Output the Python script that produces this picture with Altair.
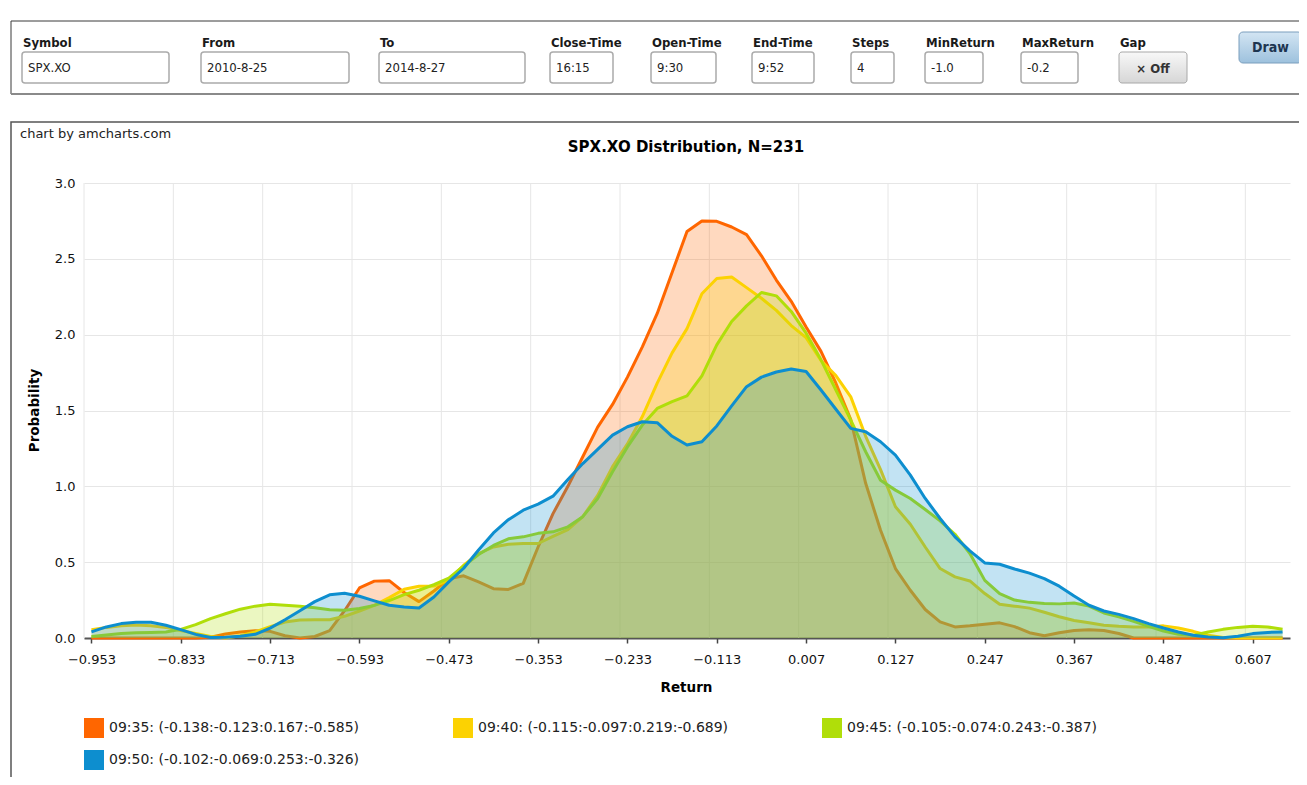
import altair as alt
import pandas as pd

# ------------------------------------------------------------------ data
# category axis: returns from -0.953 in steps of 0.02 (81 categories)
returns = [round(-0.953 + 0.02 * k, 3) for k in range(81)]

series_names = ["09:35", "09:40", "09:45", "09:50"]
series_stats = [
    "(-0.138:-0.123:0.167:-0.585)",
    "(-0.115:-0.097:0.219:-0.689)",
    "(-0.105:-0.074:0.243:-0.387)",
    "(-0.102:-0.069:0.253:-0.326)",
]
series_colors = ["#FF6600", "#FCD202", "#B0DE09", "#0D8ECF"]

p0935 = [0, 0, 0, 0, 0, 0, 0, 0, 0.005, 0.026,
         0.04, 0.048, 0.044, 0.015, 0.0, 0.01, 0.048, 0.18, 0.33, 0.375,
         0.378, 0.30, 0.24, 0.31, 0.39, 0.41, 0.37, 0.325, 0.32, 0.36,
         0.6, 0.82, 1.0, 1.195, 1.39, 1.54, 1.72, 1.92, 2.14, 2.41,
         2.68, 2.75, 2.747, 2.71, 2.66, 2.52, 2.36, 2.22, 2.05, 1.89,
         1.68, 1.44, 1.02, 0.71, 0.458, 0.315, 0.188, 0.106, 0.073, 0.08,
         0.09, 0.1, 0.075, 0.035, 0.015, 0.035, 0.05, 0.055, 0.05, 0.03,
         0, 0, 0, 0, 0, 0, 0, 0, 0, 0,
         0]
p0940 = [0.055, 0.07, 0.08, 0.085, 0.08, 0.07, 0.05, 0.03, 0.01, 0.0,
         0.015, 0.04, 0.075, 0.105, 0.118, 0.12, 0.12, 0.143, 0.178, 0.216,
         0.266, 0.321, 0.341, 0.343, 0.38, 0.48, 0.557, 0.6, 0.618, 0.623,
         0.623, 0.67, 0.715, 0.8, 0.94, 1.13, 1.28, 1.46, 1.68, 1.88,
         2.04, 2.27, 2.37, 2.38, 2.31, 2.24, 2.16, 2.06, 1.98, 1.83,
         1.73, 1.59, 1.33, 1.11, 0.865, 0.75, 0.6, 0.458, 0.403, 0.376,
         0.293, 0.222, 0.21, 0.197, 0.17, 0.14, 0.115, 0.1, 0.084, 0.077,
         0.073, 0.073, 0.08, 0.066, 0.044, 0.018, 0.003, 0, 0, 0,
         0]
p0945 = [0.01, 0.02, 0.03, 0.035, 0.037, 0.04, 0.057, 0.088, 0.128, 0.16,
         0.19, 0.21, 0.222, 0.216, 0.21, 0.2, 0.187, 0.183, 0.194, 0.215,
         0.247, 0.286, 0.315, 0.352, 0.395, 0.475, 0.55, 0.61, 0.654, 0.667,
         0.69, 0.70, 0.733, 0.8, 0.92, 1.096, 1.26, 1.404, 1.514, 1.558,
         1.596, 1.728, 1.933, 2.087, 2.19, 2.278, 2.256, 2.153, 2.01, 1.834,
         1.635, 1.437, 1.228, 1.04, 0.975, 0.92, 0.847, 0.772, 0.684, 0.557,
         0.38, 0.293, 0.25, 0.235, 0.228, 0.225, 0.231, 0.21, 0.165, 0.139,
         0.11, 0.077, 0.046, 0.024, 0.018, 0.04, 0.057, 0.07, 0.077, 0.073,
         0.057]
p0950 = [0.04, 0.073, 0.095, 0.104, 0.104, 0.084, 0.055, 0.024, 0.003, 0.005,
         0.011, 0.024, 0.065, 0.12, 0.18, 0.24, 0.285, 0.295, 0.275, 0.245,
         0.216, 0.205, 0.198, 0.27, 0.37, 0.46, 0.58, 0.693, 0.78, 0.843,
         0.883, 0.935, 1.045, 1.15, 1.244, 1.338, 1.393, 1.426, 1.42, 1.33,
         1.272, 1.294, 1.398, 1.53, 1.657, 1.72, 1.754, 1.774, 1.757, 1.635,
         1.508, 1.382, 1.36, 1.294, 1.206, 1.074, 0.92, 0.788, 0.667, 0.575,
         0.495, 0.486, 0.455, 0.428, 0.392, 0.342, 0.277, 0.216, 0.178, 0.156,
         0.128, 0.095, 0.066, 0.04, 0.018, 0.007, 0.002, 0.011, 0.029, 0.037,
         0.04]

x_ticks = [-0.953, -0.833, -0.713, -0.593, -0.473, -0.353, -0.233,
           -0.113, 0.007, 0.127, 0.247, 0.367, 0.487, 0.607]
y_ticks = [0.0, 0.5, 1.0, 1.5, 2.0, 2.5, 3.0]

chart_title = "SPX.XO Distribution, N=231"
credit = "chart by amcharts.com"

form_fields = [
    ("Symbol", "SPX.XO"), ("From", "2010-8-25"), ("To", "2014-8-27"),
    ("Close-Time", "16:15"), ("Open-Time", "9:30"), ("End-Time", "9:52"),
    ("Steps", "4"), ("MinReturn", "-1.0"), ("MaxReturn", "-0.2"),
]

labels = [f"{n}: {s}" for n, s in zip(series_names, series_stats)]
rows = []
for lab, vals in zip(labels, [p0935, p0940, p0945, p0950]):
    for r, v in zip(returns, vals):
        rows.append({"Return": r, "Probability": v, "Series": lab})
df = pd.DataFrame(rows)

# ------------------------------------------------------------------ layout
OX, OY = 84, 183          # page position of plot origin
W, H = 1206, 455
FONT = "DejaVu Sans"
COND = "Liberation Sans Narrow, DejaVu Sans Condensed, Liberation Sans, sans-serif"

# form geometry (page pixels): box left / right
form_boxes = [(22, 169), (201, 349), (379, 525), (550, 613), (651, 716),
              (752, 814), (851, 894), (925, 983), (1021, 1078)]

one = pd.DataFrame({"k": [0]})


def px(x):
    return x - OX


def py(y):
    return y - OY


def rect(x1, y1, x2, y2, **kw):
    return alt.Chart(one).mark_rect(**kw).encode(
        x=alt.value(px(x1)), x2=alt.value(px(x2)),
        y=alt.value(py(y1)), y2=alt.value(py(y2)))


def text(s, x, y, **kw):
    return alt.Chart(one).mark_text(text=s, **kw).encode(
        x=alt.value(px(x)), y=alt.value(py(y)))


layers = []
# frames
layers.append(rect(11, 21, 1330, 94, filled=False, stroke="#3a3a3a", strokeWidth=1))
layers.append(rect(11, 93, 1330, 95, fill="#8a8a8a"))
layers.append(rect(11, 122, 1330, 900, filled=False, stroke="#555555", strokeWidth=1.5))

# form
for (lab, val), (x1, x2) in zip(form_fields, form_boxes):
    layers.append(text(lab, x1 + 1, 43, align="left", baseline="middle", font=COND,
                       fontSize=13, fontWeight="bold", color="#1a1a1a"))
    layers.append(rect(x1, 52, x2, 83, fill="#ffffff", stroke="#ababab",
                       strokeWidth=1.5, cornerRadius=3))
    layers.append(text(val, x1 + 6, 68, align="left", baseline="middle", font=COND,
                       fontSize=13, color="#222222"))

layers.append(text("Gap", 1120, 43, align="left", baseline="middle", font=COND,
                   fontSize=13, fontWeight="bold", color="#1a1a1a"))
layers.append(rect(1119, 52, 1187, 83, cornerRadius=3, stroke="#a8a8a8", strokeWidth=1,
                   fill={"gradient": "linear", "x1": 0, "y1": 0, "x2": 0, "y2": 1,
                         "stops": [{"offset": 0, "color": "#f8f8f8"},
                                   {"offset": 1, "color": "#d6d6d6"}]}))
layers.append(text("\u00d7 Off", 1153, 69, align="center", baseline="middle", font=COND,
                   fontSize=13, fontWeight="bold", color="#333333"))
layers.append(rect(1239, 32, 1302, 63, cornerRadius=4, stroke="#7a9ebd", strokeWidth=1,
                   fill={"gradient": "linear", "x1": 0, "y1": 0, "x2": 0, "y2": 1,
                         "stops": [{"offset": 0, "color": "#d3e5f3"},
                                   {"offset": 1, "color": "#9dc1dd"}]}))
layers.append(text("Draw", 1270.5, 48, align="center", baseline="middle", font=COND,
                   fontSize=14, fontWeight="bold", color="#1d3550"))

# chart texts
layers.append(text(credit, 20, 134, align="left", baseline="middle", font=FONT,
                   fontSize=13, color="#222222"))
layers.append(text(chart_title, 686, 147, align="center", baseline="middle", font=FONT,
                   fontSize=15, fontWeight="bold", color="#000000"))

# scales / axes
x_enc = alt.X(
    "Return:Q",
    scale=alt.Scale(domain=[-0.963, 0.657], nice=False, zero=False),
    axis=alt.Axis(values=x_ticks, format=".3f", grid=False, labelFlush=False,
                  labelOverlap=False, domainColor="#555555", domainWidth=2,
                  tickColor="#444444", tickSize=5, tickWidth=1.5,
                  labelFont=FONT, labelFontSize=13, labelColor="#111111",
                  labelPadding=10, title="Return", titleFont=FONT,
                  titleFontSize=13.5, titleFontWeight="bold", titleColor="#000000",
                  titleX=602, titleY=49, titleAlign="center", titleBaseline="middle"),
)
y_enc = alt.Y(
    "Probability:Q",
    scale=alt.Scale(domain=[0, 3], nice=False),
    axis=alt.Axis(values=y_ticks, format=".1f", domain=False, ticks=False, tickSize=0,
                  grid=True, gridColor="#e6e6e6", gridWidth=1,
                  labelFont=FONT, labelFontSize=13, labelColor="#111111",
                  labelPadding=9, title="Probability", titleFont=FONT,
                  titleFontSize=13.5, titleFontWeight="bold", titleColor="#000000",
                  titleX=-50, titleY=227, titleAngle=270, titleAlign="center",
                  titleBaseline="middle"),
)
color_scale = alt.Scale(domain=labels, range=series_colors)

# vertical grid lines at category boundaries (half a step left of each tick)
grid_df = pd.DataFrame({"Return": [round(t - 0.01, 3) for t in x_ticks]})
layers.append(alt.Chart(grid_df).mark_rule(color="#e6e6e6", strokeWidth=1).encode(x=x_enc))

for lab in labels:
    sub = alt.Chart(df).transform_filter(alt.datum.Series == lab)
    layers.append(sub.mark_area(fillOpacity=0.25, interpolate="linear").encode(
        x=x_enc, y=y_enc, color=alt.Color("Series:N", scale=color_scale, legend=None)))
    layers.append(sub.mark_line(strokeWidth=3, strokeJoin="round").encode(
        x=x_enc, y=y_enc, color=alt.Color("Series:N", scale=color_scale, legend=None)))

# legend (3 columns)
for i, (lab, colr) in enumerate(zip(labels, series_colors)):
    col, row = i % 3, i // 3
    lx = 84 + col * 369
    ly = 718 + row * 32
    layers.append(rect(lx, ly, lx + 20, ly + 20, fill=colr))
    layers.append(text(lab, lx + 25, ly + 10, align="left", baseline="middle",
                       font=FONT, fontSize=14, color="#222222"))

chart = alt.layer(*layers).properties(
    width=W, height=H,
    padding={"left": OX - 8, "top": OY - 8, "right": 1291 - (OX - 8) - W,
             "bottom": 769 - (OY - 8) - H},
    autosize=alt.AutoSizeParams(type="none"),
    background="#ffffff",
).configure_view(stroke=None)

chart.save("out.html", embed_options={"renderer": "svg", "actions": False})
